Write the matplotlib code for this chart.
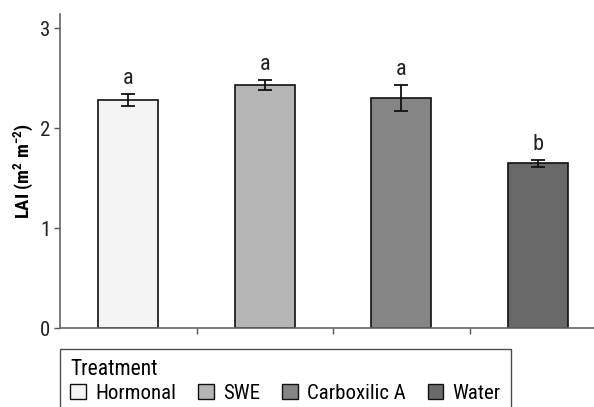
import matplotlib
matplotlib.use("Agg")
import matplotlib.pyplot as plt
from matplotlib.patches import Patch

plt.rcParams['font.family'] = ['Roboto Condensed', 'DejaVu Sans']

treatments = ["Hormonal", "SWE", "Carboxilic A", "Water"]
lai = [2.28, 2.43, 2.30, 1.65]
lai_err = [0.06, 0.05, 0.13, 0.035]
letters = ["a", "a", "a", "b"]
colors = ["#f4f4f4", "#b5b5b5", "#858585", "#696969"]

W, H = 594, 407
fig = plt.figure(figsize=(W / 100, H / 100), dpi=100)
ax = fig.add_axes([60 / W, 1 - 328 / H, (W - 60) / W, (328 - 14) / H])

x = list(range(len(treatments)))
ax.bar(x, lai, width=0.44, color=colors, edgecolor="#111111", linewidth=1.2, zorder=2)
ax.errorbar(x, lai, yerr=lai_err, fmt="none", ecolor="#111111", elinewidth=1.3,
            capsize=5, capthick=1.3, zorder=3)
for xi, v, e, t in zip(x, lai, lai_err, letters):
    ax.text(xi, v + e + 0.05, t, ha="center", va="bottom", fontsize=16, color="#222222")

ax.set_xlim(-0.5, 3.412)
ax.set_ylim(0, 3.14)
ax.set_yticks([0, 1, 2, 3])
ax.set_xticks([])
ax.set_xticks([0.5, 1.5, 2.5], minor=True)
ax.tick_params(axis="y", length=4, width=1, color="#555555", labelsize=15, pad=3,
               labelcolor="#222222")
ax.tick_params(axis="x", which="minor", length=4, width=1, color="#555555", direction="out")
for s in ["top", "right"]:
    ax.spines[s].set_visible(False)
for s in ["left", "bottom"]:
    ax.spines[s].set_color("#666666")
    ax.spines[s].set_linewidth(1.2)
ax.set_ylabel("LAI (m$^{\\mathregular{2}}$ m$^{\\mathregular{-2}}$)", fontsize=13.5, fontweight="bold",
              labelpad=3)

handles = [Patch(facecolor=c, edgecolor="#111111", linewidth=1.0) for c in colors]
leg = fig.legend(handles, treatments, title="Treatment", ncol=4, loc="upper left",
                 bbox_to_anchor=(60 / W, 1 - 349 / H), fontsize=15, title_fontsize=15.5,
                 frameon=True, fancybox=False, edgecolor="#222222", borderpad=0.5,
                 handlelength=0.75, handleheight=0.75, handletextpad=0.45, columnspacing=1.05,
                 borderaxespad=0, labelspacing=0.15)
leg._legend_box.align = "left"
leg.get_frame().set_linewidth(1.0)

fig.savefig("out.png", dpi=100)
